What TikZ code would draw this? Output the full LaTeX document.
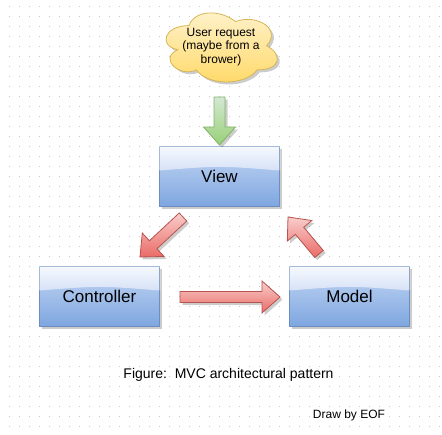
\documentclass[tikz,border=0pt]{standalone}
\usepackage{fontspec}
\setmainfont{Liberation Sans}
\usetikzlibrary{shadows,calc}
\definecolor{dotcol}{HTML}{C8C8C8}
\definecolor{boxtop}{HTML}{C4D7F3}
\definecolor{boxbot}{HTML}{7EA6E0}
\definecolor{glasstop}{HTML}{F6F9FE}
\definecolor{glassbot}{HTML}{D6E2F6}
\definecolor{boxline}{HTML}{6C8EBF}
\definecolor{redtop}{HTML}{F8CECC}
\definecolor{redbot}{HTML}{EA6B66}
\definecolor{redline}{HTML}{B85450}
\definecolor{greentop}{HTML}{D5E8D4}
\definecolor{greenbot}{HTML}{97D077}
\definecolor{greenline}{HTML}{82B366}
\definecolor{cloudtop}{HTML}{FFF2CC}
\definecolor{cloudbot}{HTML}{FFD966}
\definecolor{cloudline}{HTML}{D6B656}
\tikzset{
  softshadow/.style={drop shadow={shadow xshift=2.5pt, shadow yshift=-2.5pt, opacity=0.2, fill=black}},
  mvcbox/.style={rectangle, minimum width=120, minimum height=60, inner sep=0pt,
    draw=boxline, line width=0.8pt, softshadow,
    font=\fontsize{17}{20}\selectfont,
    path picture={
      \shade[top color=boxtop, bottom color=boxbot]
        (path picture bounding box.south west) rectangle (path picture bounding box.north east);
      \shade[top color=glasstop, bottom color=glassbot]
        (path picture bounding box.north west) -- (path picture bounding box.north east)
        -- ($(path picture bounding box.north east)!0.4!(path picture bounding box.south east)$)
        .. controls ($(path picture bounding box.north)!0.32!(path picture bounding box.south)$) ..
        ($(path picture bounding box.north west)!0.4!(path picture bounding box.south west)$) -- cycle;
    }},
  glassedge/.style={white, opacity=0.6, line width=0.8pt},
  redarrow/.style={draw=redline, line width=0.8pt, top color=redtop, bottom color=redbot, softshadow},
  greenarrow/.style={draw=greenline, line width=0.8pt, top color=greentop, bottom color=greenbot, softshadow},
  cloudshape/.style={draw=cloudline, line width=0.8pt, top color=cloudtop, bottom color=cloudbot, softshadow},
  cloudtext/.style={inner sep=0pt, align=center, font=\fontsize{12}{13.5}\selectfont},
  captext/.style={anchor=base, inner sep=0pt}
}
\newcommand\blockarrow[3]{%
  \coordinate (ba-h) at ($(#2)!18pt!(#1)$);
  \path[#3] ($(#1)!5.5pt!90:(#2)$) -- ($(ba-h)!5.5pt!90:(#2)$) -- ($(ba-h)!16pt!90:(#2)$)
    -- (#2) -- ($(ba-h)!16pt!-90:(#2)$) -- ($(ba-h)!5.5pt!-90:(#2)$) -- ($(#1)!5.5pt!-90:(#2)$) -- cycle;
}
\begin{document}
\begin{tikzpicture}[x=1pt,y=-1pt]
\useasboundingbox (0,0) rectangle (442,434);
\fill[white] (0,0) rectangle (442,434);
\foreach \i in {0,...,43}{
  \foreach \j in {0,...,42}{
    \fill[dotcol] (8.5+10*\i,5.5+10*\j) rectangle ++(1,1);
  }
}
% cloud outline
\begin{scope}[shift={(157.9,5.4)}, x=124.2pt, y=-80.6pt]
  \path[cloudshape] (0.25,0.25)
    .. controls (0.05,0.25) and (0,0.5) .. (0.16,0.55)
    .. controls (0,0.66) and (0.18,0.9) .. (0.31,0.8)
    .. controls (0.4,1) and (0.7,1) .. (0.8,0.8)
    .. controls (1,0.8) and (1,0.6) .. (0.875,0.5)
    .. controls (1,0.3) and (0.8,0.1) .. (0.625,0.2)
    .. controls (0.5,0.05) and (0.3,0.05) .. (0.25,0.25) -- cycle;
\end{scope}
% nodes
\node[cloudtext] (req) at (221,47) {User request\\(maybe from a\\brower)};
\node[mvcbox] (view) at (219.5,176.5) {View};
\node[mvcbox] (ctrl) at (99.5,296.5) {Controller};
\node[mvcbox] (model) at (349.5,296.5) {Model};
\foreach \n in {view,ctrl,model}{
  \draw[glassedge] ($(\n.north west)!0.4!(\n.south west)$) -- (\n.north west) -- (\n.north east)
    -- ($(\n.north east)!0.4!(\n.south east)$);
}
% arrow end points
\coordinate (g1) at (219.5,97);
\coordinate (g2) at (219.5,145);
\coordinate (r1a) at (183,217);
\coordinate (r1b) at (140,257);
\coordinate (r2a) at (319,254);
\coordinate (r2b) at (288,217);
\coordinate (r3a) at (180,297);
\coordinate (r3b) at (280,297);
\blockarrow{g1}{g2}{greenarrow}
\blockarrow{r1a}{r1b}{redarrow}
\blockarrow{r2a}{r2b}{redarrow}
\blockarrow{r3a}{r3b}{redarrow}
% texts
\node[captext, font=\fontsize{14}{16}\selectfont] (cap) at (228.5,378.3) {Figure:~~MVC architectural pattern};
\node[captext, font=\fontsize{12}{14}\selectfont] (sig) at (349,418.3) {Draw by EOF};
\end{tikzpicture}
\end{document}
